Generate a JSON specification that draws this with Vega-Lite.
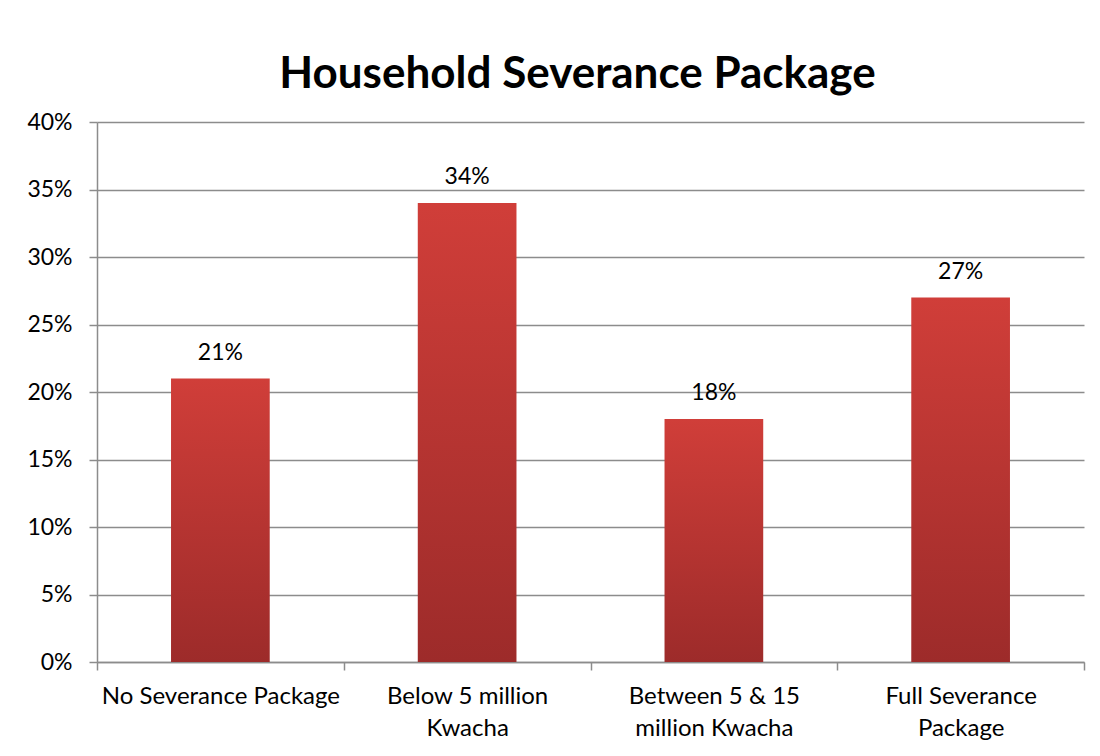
{
  "$schema": "https://vega.github.io/schema/vega-lite/v6.json",
  "autosize": "none",
  "width": 987,
  "height": 540,
  "padding": {"left": 97, "top": 122, "right": 16, "bottom": 94},
  "background": "white",
  "title": {
    "text": "Household Severance Package",
    "font": "Lato",
    "fontSize": 44,
    "fontWeight": "bold",
    "color": "#000000",
    "anchor": "middle",
    "dx": -13,
    "offset": 14
  },
  "data": {
    "values": [
      {"category": "No Severance Package", "value": 0.21},
      {"category": "Below 5 million Kwacha", "value": 0.34},
      {"category": "Between 5 & 15 million Kwacha", "value": 0.18},
      {"category": "Full Severance Package", "value": 0.27}
    ]
  },
  "config": {
    "view": {"stroke": null},
    "font": "Lato"
  },
  "encoding": {
    "x": {
      "field": "category",
      "type": "nominal",
      "sort": null,
      "scale": {"paddingInner": 0, "paddingOuter": 0},
      "axis": {
        "title": null,
        "labelAngle": 0,
        "labelFont": "Lato",
        "labelFontSize": 24,
        "labelLimit": 0,
        "labelColor": "#000000",
        "labelPadding": 14,
        "labelLineHeight": 32,
        "domainColor": "#8c8c8c",
        "domainWidth": 1.5,
        "tickColor": "#8c8c8c",
        "tickWidth": 1.5,
        "tickSize": 8,
        "tickBand": "extent",
        "labelExpr": "datum.label == 'Below 5 million Kwacha' ? ['Below 5 million', 'Kwacha'] : datum.label == 'Between 5 & 15 million Kwacha' ? ['Between 5 & 15', 'million Kwacha'] : datum.label == 'Full Severance Package' ? ['Full Severance', 'Package'] : datum.label"
      }
    },
    "y": {
      "field": "value",
      "type": "quantitative",
      "scale": {"domain": [0, 0.4], "nice": false},
      "axis": {
        "title": null,
        "format": ".0%",
        "values": [0, 0.05, 0.1, 0.15, 0.2, 0.25, 0.3, 0.35, 0.4],
        "labelFont": "Lato",
        "labelFontSize": 23,
        "labelColor": "#000000",
        "labelPadding": 17,
        "grid": true,
        "gridColor": "#8c8c8c",
        "gridWidth": 1.5,
        "domainColor": "#8c8c8c",
        "domainWidth": 1.5,
        "tickColor": "#8c8c8c",
        "tickWidth": 1.5,
        "tickSize": 8
      }
    }
  },
  "layer": [
    {
      "mark": {
        "type": "bar",
        "width": {"band": 0.4},
        "color": {
          "gradient": "linear",
          "x1": 0, "y1": 0, "x2": 0, "y2": 1,
          "stops": [
            {"offset": 0, "color": "#D03E39"},
            {"offset": 1, "color": "#9D2B2A"}
          ]
        }
      }
    },
    {
      "mark": {"type": "text", "dy": -26, "font": "Lato", "fontSize": 23, "color": "#000000"},
      "encoding": {
        "text": {"field": "value", "type": "quantitative", "format": ".0%"}
      }
    }
  ]
}
